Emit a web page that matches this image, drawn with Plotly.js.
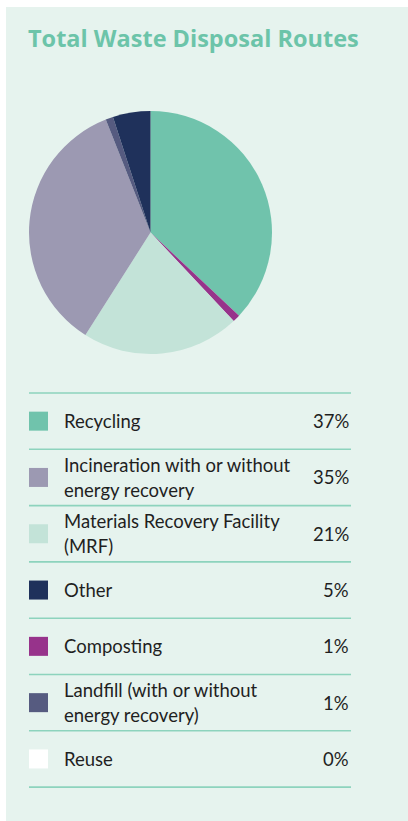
<!DOCTYPE html>
<html>
<head>
<meta charset="utf-8">
<script src="https://cdn.plot.ly/plotly-3.0.1.min.js"></script>
<style>
html,body{margin:0;padding:0;background:#ffffff;}
#chart{width:408px;height:821px;}
</style>
</head>
<body>
<div id="chart"></div>
<script>
// ---- data (legend order) ----
const categories = ["Recycling", "Incineration with or without<br>energy recovery", "Materials Recovery Facility<br>(MRF)", "Other", "Composting", "Landfill (with or without<br>energy recovery)", "Reuse"];
const shares = [37, 35, 21, 5, 1, 1, 0];
const shareLabels = ["37%", "35%", "21%", "5%", "1%", "1%", "0%"];
const colors = ["#70c3ac", "#9c99b2", "#c3e3d8", "#1f315b", "#97338b", "#565b80", "#ffffff"];
// order in which slices run clockwise from 12 o'clock
const pieOrder = [0, 4, 2, 1, 5, 3, 6];

const W = 408, H = 821;
const px = v => v / W;
const py = v => 1 - v / H;

const pieLabels = pieOrder.map(i => categories[i].replace("<br>", " "));
const pieValues = pieOrder.map(i => shares[i]);
const pieColors = pieOrder.map(i => colors[i]);

const trace = {
  type: "pie",
  labels: pieLabels,
  values: pieValues,
  marker: {colors: pieColors, line: {width: 0}},
  sort: false,
  direction: "clockwise",
  rotation: 0,
  textinfo: "none",
  hoverinfo: "label+percent",
  showlegend: false,
  domain: {x: [px(29), px(272)], y: [py(354), py(111)]}
};

const shapes = [];
const annotations = [];
// panel background
shapes.push({type: "rect", xref: "paper", yref: "paper", x0: px(6), x1: px(408), y0: py(821), y1: py(7),
  fillcolor: "#e6f3ee", line: {width: 0}, layer: "below"});

const rowTop = 393, rowH = 56.3;
const lineColor = "#8dd3bd";
const txtFont = {family: "Lato, 'Open Sans', sans-serif", size: 18.5, color: "#1f1f1f"};
for (let i = 0; i <= categories.length; i++) {
  const y = rowTop + i * rowH;
  shapes.push({type: "line", xref: "paper", yref: "paper", x0: px(29), x1: px(351), y0: py(y), y1: py(y),
    line: {color: lineColor, width: 1.6}});
}
categories.forEach((cat, i) => {
  const cy = rowTop + (i + 0.5) * rowH;
  shapes.push({type: "rect", xref: "paper", yref: "paper", x0: px(29), x1: px(48), y0: py(cy + 9.5), y1: py(cy - 9.5),
    fillcolor: colors[i], line: {width: 0}});
  const lines = cat.split("<br>");
  const n = lines.length;
  lines.forEach((ln, k) => {
    const ly = cy + (k - (n - 1) / 2) * 25.3;
    annotations.push({xref: "paper", yref: "paper", x: px(62), y: py(ly), xanchor: "left", yanchor: "middle",
      text: ln, showarrow: false, font: txtFont});
  });
  annotations.push({xref: "paper", yref: "paper", x: px(351), y: py(cy), xanchor: "right", yanchor: "middle",
    text: shareLabels[i], showarrow: false, font: txtFont});
});

const layout = {
  width: W, height: H,
  margin: {l: 0, r: 0, t: 0, b: 0},
  paper_bgcolor: "#ffffff",
  title: {text: "<b>Total Waste Disposal Routes</b>", xref: "paper", yref: "paper", x: px(28), xanchor: "left",
    y: py(39), yanchor: "middle", font: {family: "'Open Sans', Lato, sans-serif", size: 23.5, color: "#6cc4a9"}},
  shapes: shapes,
  annotations: annotations,
  showlegend: false
};

Plotly.newPlot("chart", [trace], layout, {displayModeBar: false, staticPlot: true});
</script>
</body>
</html>
